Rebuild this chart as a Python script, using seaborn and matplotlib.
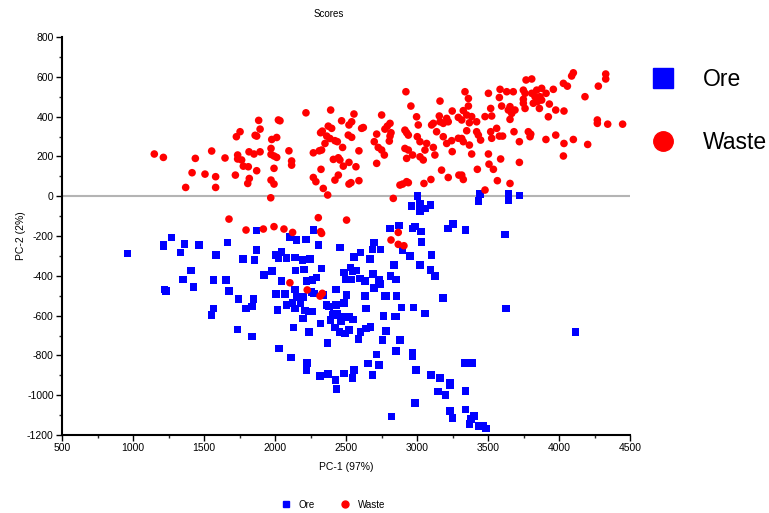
import matplotlib
matplotlib.use("Agg")
import matplotlib.pyplot as plt
from matplotlib.lines import Line2D
from matplotlib.ticker import MultipleLocator
import seaborn as sns
import pandas as pd

# ---- data ----
waste_x = [1150, 1214, 1439, 1554, 1648, 1416, 1507, 1582, 1371, 1582, 1721, 1728, 1754, 1885, 1895,
           1860, 1871, 1737, 1737, 1765, 1817, 1852, 1895, 1777, 1812, 1871, 1819, 1808, 1972, 2012,
           1977, 1972, 1993, 2012, 1993, 1972, 1993, 2024, 1970,
           2035, 2098, 2117, 2117, 2218, 2392, 2270, 2312, 2328, 2270, 2288, 2340, 2371, 2321, 2333,
           2375, 2399, 2364, 2387, 2422, 2352, 2439, 2469, 2556, 2521, 2540, 2516, 2540, 2476, 2591,
           2457, 2411, 2446, 2481, 2521, 2570, 2446, 2422, 2521, 2535, 2591, 2610, 2751, 2810, 2791,
           2774, 2817, 2810, 2716, 2699, 2727, 2751, 2805, 2770, 2716, 2922, 2957, 2997, 3009, 2915,
           2927, 2939, 3002, 3021, 2915, 2939, 2927, 2969, 3021, 3044, 3056, 3068, 3115, 3126, 3103,
           3115, 3138, 3157, 3162, 3162, 3185, 3209, 3220, 3248, 3185, 3209, 3244, 3248, 3291, 3291,
           3173, 3220, 3295, 3098, 3049, 2927, 2939, 2880, 2899, 2833, 2324, 2622,
           4101, 4089, 4329, 4329, 4277, 4183, 4031, 4059, 3768, 3808, 3960, 3338, 3362, 3503, 3585,
           3632, 3678, 3580, 3749, 3761, 3749, 3749, 3808, 3831, 3843, 3878, 3909, 3866, 3819, 3848,
           3878, 3932, 3862, 3761, 3977, 4035, 3925, 3655, 3643, 3690, 3667, 3655, 3596, 3519, 3362,
           3326, 3350, 3385, 3315, 3369, 3420, 3479, 3526, 3350, 3420, 3432, 3448, 3315, 3326, 3369,
           3519, 3526, 3561, 3580, 3603, 3683, 3721, 3784, 3801, 3796, 3908, 3977, 4035, 4101, 4202,
           4270, 4270, 4343, 4448, 4031, 3385, 3503, 3589, 3721, 3425, 3507, 3538, 3315, 3326, 3566,
           3655, 3479,
           1676, 1796, 1918, 1993,
           2305, 2504, 2063, 2124, 2321, 2328, 2868, 2817, 2868, 2908, 2105, 2227, 2317, 2333]
waste_y = [212, 195, 190, 227, 192, 118, 111, 98, 44, 44, 106, 299, 324, 381, 337,
           306, 302, 207, 187, 182, 223, 212, 223, 151, 148, 128, 89, 64, 240, 295,
           285, 210, 202, 195, 140, 81, 61, 383, -8,
           379, 228, 177, 156, 419, 433, 218, 228, 232, 94, 73, 39, 6, 319, 327,
           352, 341, 302, 290, 279, 265, 274, 379, 413, 358, 374, 307, 296, 245, 228,
           182, 185, 193, 151, 170, 148, 106, 81, 61, 68, 78, 341, 408, 366, 352,
           337, 319, 302, 312, 274, 245, 232, 277, 207, 165, 525, 453, 399, 358, 332,
           319, 307, 299, 274, 240, 232, 190, 207, 198, 182, 232, 265, 245, 207, 358,
           366, 324, 403, 478, 374, 366, 391, 374, 428, 299, 265, 279, 224, 396, 291,
           131, 94, 106, 84, 64, 73, 68, 56, 61, -11, 135, 345,
           620, 604, 614, 589, 553, 500, 567, 553, 584, 589, 537, 525, 491, 517, 537,
           525, 525, 496, 533, 517, 487, 467, 517, 500, 533, 542, 517, 500, 467, 475,
           483, 463, 441, 441, 433, 428, 399, 450, 433, 433, 416, 386, 453, 441, 453,
           430, 408, 400, 383, 369, 374, 400, 403, 329, 324, 307, 282, 290, 274, 257,
           324, 291, 341, 302, 302, 324, 274, 324, 312, 299, 285, 307, 265, 285, 260,
           383, 366, 362, 362, 202, 212, 212, 187, 170, 135, 161, 135, 106, 84, 78,
           64, 31,
           -115, -170, -165, -153,
           -108, -120, -165, -182, -178, -187, -182, -220, -242, -249, -435, -471, -502, -488]

ore_x = [960, 1214, 1214, 1270, 1364, 1334, 1463, 1665, 1585, 1871, 1871, 1775, 1855, 2005, 2024,
         1409, 1352, 1566, 1653, 1221, 1233, 1427, 1676, 1923, 1981, 1744, 1848, 1796, 1836, 1566,
         1554, 2005, 2017, 1737, 1838, 2028,
         3004, 2962, 3021, 3021, 3061, 3096, 2810, 2873, 2969, 2986, 3028, 3032, 3220, 3255, 2270,
         2101, 2152, 2218, 2305, 2457, 2697, 2687, 2744, 2899, 2603, 2558, 2669, 2950, 3103, 2838,
         3021, 3096, 3126, 2047, 2082, 2141, 2195, 2246, 2328, 2145, 2204, 2223, 2263, 2293, 2486,
         2497, 2533, 2547, 2570, 2540, 2598, 2633, 2692, 2734, 2739, 2699, 2814, 2852, 2047, 2070,
         2141, 2157, 2199, 2124, 2180, 2258, 2274, 2340, 2429, 2504, 2633, 2774, 2786, 2856, 3185,
         2082, 2141, 2211, 2265, 2364, 2382, 2429, 2486, 2640, 2892, 2974, 3056, 2763, 2845, 2410,
         2469, 2523, 2199,
         2235, 2129, 2239, 2321, 2392, 2411, 2439, 2465, 2422, 2453, 2493, 2523, 2516, 2551, 2603,
         2640, 2673, 2587, 2371, 2112, 2227, 2223, 2317, 2375, 2427, 2434, 2486, 2547, 2556, 2657,
         2687, 2716, 2732, 2758, 2781, 2852, 2880, 2852, 2967, 2967, 2993, 3098, 3162, 3232, 3232,
         3150, 3201, 2986, 2821, 3232, 3251,
         3625, 4115, 3336, 3387, 3341, 3341, 3402, 3380, 3369, 3437, 3463, 3486,
         3444, 3434, 3643, 3643, 3721, 3341, 3620]
ore_y = [-287, -242, -250, -207, -240, -282, -245, -232, -296, -172, -270, -317, -322, -296, -312,
         -374, -418, -421, -421, -468, -475, -455, -475, -396, -376, -517, -517, -564, -555, -564,
         -597, -492, -572, -669, -706, -765,
         1, -49, -39, -73, -61, -44, -162, -148, -162, -153, -178, -229, -162, -140, -170,
         -204, -220, -217, -245, -257, -232, -267, -267, -270, -282, -307, -317, -301, -296, -346,
         -346, -371, -401, -279, -312, -309, -321, -316, -363, -374, -368, -425, -421, -408, -384,
         -418, -358, -379, -374, -418, -413, -425, -391, -421, -441, -460, -401, -418, -425, -492,
         -468, -508, -508, -538, -538, -480, -488, -497, -468, -497, -502, -502, -502, -502, -513,
         -547, -564, -575, -580, -547, -555, -547, -538, -564, -559, -559, -589, -602, -605, -597,
         -605, -605, -614,
         -580, -659, -681, -639, -622, -592, -589, -627, -659, -681, -689, -672, -609, -619, -681,
         -664, -656, -719, -739, -811, -837, -874, -904, -894, -924, -969, -890, -915, -874, -840,
         -899, -795, -848, -723, -676, -605, -723, -778, -785, -806, -874, -899, -915, -937, -949,
         -982, -999, -1038, -1108, -1078, -1116,
         -565, -681, -837, -837, -979, -1071, -1105, -1121, -1146, -1155, -1155, -1168,
         11, -24, 11, -19, 3, -170, -192]

groups = ["Ore", "Waste"]
colors = {"Ore": "#0000FF", "Waste": "#FF0000"}
marks = {"Ore": "s", "Waste": "o"}

df = pd.concat([
    pd.DataFrame({"PC1": ore_x, "PC2": ore_y, "Group": "Ore"}),
    pd.DataFrame({"PC1": waste_x, "PC2": waste_y, "Group": "Waste"}),
], ignore_index=True)

sns.set_style("ticks")
plt.rcParams["font.family"] = ["Liberation Sans", "DejaVu Sans"]
plt.rcParams["axes.unicode_minus"] = False
plt.rcParams["text.color"] = "black"
plt.rcParams["axes.labelcolor"] = "black"

fig = plt.figure(figsize=(7.69, 5.13), dpi=100)
ax = fig.add_axes([62 / 769, 78 / 513, 568 / 769, 398 / 513])

ax.axhline(0, color="#b4b4b4", lw=1.5, zorder=1)
sns.scatterplot(data=df, x="PC1", y="PC2", hue="Group", style="Group",
                hue_order=groups, style_order=groups, palette=colors, markers=marks,
                s=30, linewidth=0, legend=False, ax=ax, zorder=3)

ax.set_xlim(500, 4500)
ax.set_ylim(-1200, 800)
ax.xaxis.set_major_locator(MultipleLocator(500))
ax.xaxis.set_minor_locator(MultipleLocator(250))
ax.yaxis.set_major_locator(MultipleLocator(200))
ax.yaxis.set_minor_locator(MultipleLocator(100))
for s in ["top", "right"]:
    ax.spines[s].set_visible(False)
for s in ["left", "bottom"]:
    ax.spines[s].set_linewidth(1.5)
    ax.spines[s].set_color("black")
ax.tick_params(which="major", length=4, width=1, labelsize=7.5, colors="black", pad=2)
ax.tick_params(which="minor", length=2.5, width=1)
ax.set_xlabel("PC-1 (97%)", fontsize=7.5, labelpad=6)
ax.set_ylabel("PC-2 (2%)", fontsize=7.5, labelpad=1)
fig.text(0.427, 0.973, "Scores", fontsize=7, ha="center", va="center")

# big legend on the right
big = [Line2D([], [], ls="none", marker=marks[g], color=colors[g], ms=14) for g in groups]
fig.legend(big, groups, loc="upper left", bbox_to_anchor=(0.8355, 0.885),
           frameon=False, fontsize=16.5, handletextpad=1.25, labelspacing=1.72,
           handlelength=1.0, borderaxespad=0)

# small legend at the bottom
small = [Line2D([], [], ls="none", marker=marks[g], color=colors[g], ms=5) for g in groups]
fig.legend(small, groups, loc="center", bbox_to_anchor=(0.433, 0.016), ncol=2,
           frameon=False, fontsize=7, handletextpad=0.8, columnspacing=2.6,
           handlelength=1.0, borderaxespad=0)

fig.savefig("out.png", dpi=100)
